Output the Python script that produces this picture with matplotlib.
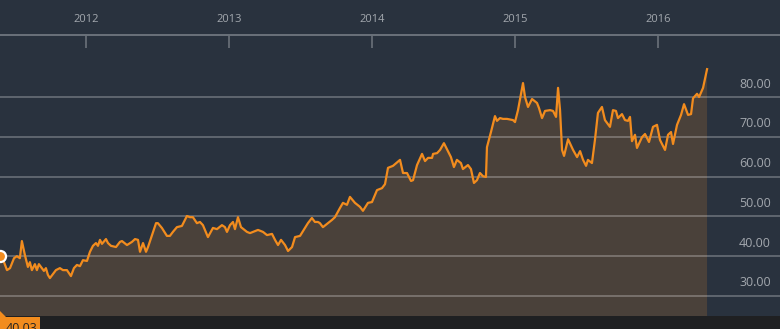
import matplotlib
matplotlib.use("Agg")
import matplotlib.pyplot as plt
from matplotlib.patches import Rectangle, Polygon
from matplotlib.transforms import offset_copy, blended_transform_factory

# ---- data (decimal years, price) ----
years = [
    2011.399, 2011.427, 2011.448, 2011.469, 2011.497, 2011.517, 2011.538, 2011.552, 2011.573, 2011.594,
    2011.608, 2011.622, 2011.643, 2011.657, 2011.671, 2011.692, 2011.706, 2011.720, 2011.734, 2011.748,
    2011.769, 2011.790, 2011.818, 2011.839, 2011.867, 2011.895, 2011.916, 2011.937, 2011.958, 2011.979,
    2012.007, 2012.028, 2012.049, 2012.070, 2012.084, 2012.098, 2012.112, 2012.140, 2012.154, 2012.175,
    2012.210, 2012.238, 2012.252, 2012.287, 2012.322, 2012.343, 2012.364, 2012.378, 2012.399, 2012.420,
    2012.434, 2012.469, 2012.490, 2012.503, 2012.531, 2012.566, 2012.587, 2012.608, 2012.636, 2012.671,
    2012.706, 2012.727, 2012.748, 2012.776, 2012.797, 2012.818, 2012.853, 2012.888, 2012.916, 2012.951,
    2012.972, 2012.986, 2013.007, 2013.028, 2013.042, 2013.063, 2013.084, 2013.126, 2013.147, 2013.168,
    2013.203, 2013.238, 2013.266, 2013.301, 2013.322, 2013.343, 2013.364, 2013.392, 2013.413, 2013.441,
    2013.462, 2013.497, 2013.531, 2013.552, 2013.580, 2013.601, 2013.622, 2013.636, 2013.657, 2013.692,
    2013.720, 2013.741, 2013.776, 2013.797, 2013.825, 2013.846, 2013.881, 2013.916, 2013.937, 2013.972,
    2014.000, 2014.035, 2014.070, 2014.091, 2014.112, 2014.147, 2014.196, 2014.217, 2014.245, 2014.273,
    2014.287, 2014.315, 2014.350, 2014.371, 2014.392, 2014.420, 2014.427, 2014.455, 2014.476, 2014.503,
    2014.524, 2014.552, 2014.573, 2014.594, 2014.622, 2014.636, 2014.671, 2014.692, 2014.713, 2014.734,
    2014.755, 2014.776, 2014.797, 2014.804, 2014.832, 2014.860, 2014.874, 2014.895, 2014.916, 2014.944,
    2014.986, 2015.000, 2015.021, 2015.056, 2015.070, 2015.091, 2015.119, 2015.154, 2015.168, 2015.189,
    2015.210, 2015.245, 2015.266, 2015.287, 2015.301, 2015.315, 2015.329, 2015.343, 2015.371, 2015.406,
    2015.434, 2015.455, 2015.476, 2015.497, 2015.510, 2015.538, 2015.559, 2015.580, 2015.608, 2015.629,
    2015.664, 2015.685, 2015.706, 2015.720, 2015.748, 2015.769, 2015.790, 2015.804, 2015.818, 2015.839,
    2015.853, 2015.888, 2015.909, 2015.937, 2015.965, 2015.993, 2016.014, 2016.049, 2016.070, 2016.091,
    2016.105, 2016.133, 2016.161, 2016.182, 2016.210, 2016.231, 2016.245, 2016.273, 2016.287, 2016.315,
    2016.343,
]
prices = [
    40.03, 38.5, 36.5, 37.0, 39.5, 40.0, 39.5, 43.8, 40.3, 37.3,
    38.5, 36.5, 38.0, 36.5, 38.0, 37.0, 36.3, 37.0, 35.3, 34.5,
    35.5, 36.5, 37.0, 36.5, 36.5, 35.0, 37.0, 37.8, 37.5, 39.0,
    38.8, 41.1, 42.6, 43.3, 42.6, 44.1, 43.1, 44.3, 43.3, 42.6,
    42.3, 43.6, 43.8, 42.8, 43.6, 44.3, 44.1, 41.1, 43.3, 41.1,
    42.3, 46.1, 48.3, 48.3, 47.1, 45.1, 45.1, 46.1, 47.3, 47.6,
    50.1, 49.8, 49.8, 48.3, 48.6, 47.8, 44.8, 47.1, 46.8, 47.8,
    47.3, 46.1, 47.8, 48.6, 46.8, 49.8, 47.3, 46.1, 45.8, 46.1,
    46.6, 46.1, 45.3, 45.6, 44.1, 42.8, 44.1, 42.8, 41.3, 42.3,
    44.8, 45.1, 47.1, 48.3, 49.6, 48.6, 48.6, 48.3, 47.3, 48.3,
    49.1, 49.8, 52.1, 53.4, 52.9, 54.9, 53.4, 52.4, 51.4, 53.4,
    53.6, 56.6, 57.1, 58.1, 62.2, 62.7, 64.2, 60.9, 60.9, 58.9,
    59.1, 62.9, 65.7, 63.9, 64.7, 64.7, 65.7, 65.9, 66.7, 68.4,
    66.9, 64.9, 62.4, 64.2, 63.4, 61.9, 62.9, 61.9, 58.4, 59.1,
    60.9, 60.1, 59.9, 67.4, 71.2, 75.2, 74.0, 74.7, 74.5, 74.5,
    74.2, 73.7, 76.7, 83.5, 80.0, 77.5, 79.5, 78.5, 77.2, 74.7,
    76.5, 76.7, 76.5, 75.0, 82.3, 76.7, 66.7, 65.2, 69.4, 66.7,
    64.9, 66.4, 64.2, 62.7, 64.2, 63.4, 69.2, 76.0, 77.5, 74.2,
    72.5, 76.7, 76.5, 74.7, 75.7, 74.2, 74.0, 75.0, 68.9, 70.5,
    67.2, 69.9, 70.7, 68.7, 72.5, 73.0, 69.2, 66.7, 70.5, 71.2,
    68.2, 73.0, 75.5, 78.2, 75.5, 75.7, 79.7, 80.8, 80.0, 82.3,
    87.0,
]
year_ticks = [2012, 2013, 2014, 2015, 2016]
year_labels = ["2012", "2013", "2014", "2015", "2016"]
price_ticks = [30, 40, 50, 60, 70, 80]
first_label = "40.03"

# ---- style ----
BG = "#29323e"
FILL = "#4a413a"
LINE = "#f28c1e"
AXIS = "#6a717a"
TXT = "#a3a8ae"
STRIP = "#1f2022"
FONT = "Open Sans"

W, H = 780, 329
fig = plt.figure(figsize=(W / 100, H / 100), dpi=100, facecolor=BG)

# axes spans from pixel y=35 (top axis line) down to y=316 (start of bottom strip)
ax = fig.add_axes([0, 13 / H, 1, (316 - 35) / H])
ax.set_facecolor(BG)
ax.set_xlim(2011.399, 2016.853)
ax.set_ylim(24.97, 95.58)

ax.fill_between(years, prices, 0, color=FILL, lw=0, zorder=1)
ax.plot(years, prices, color=LINE, lw=1.6, zorder=3, solid_joinstyle="round")
ax.plot(years[:1], prices[:1], marker="o", ms=8, mfc=LINE, mec="white", mew=1.6,
        color=LINE, zorder=4, clip_on=False)

# grid
ax.set_yticks(price_ticks)
ax.grid(axis="y", color="white", alpha=0.27, lw=1.3, zorder=2)
ax.set_axisbelow(False)
ax.tick_params(axis="y", left=False, right=False, labelleft=False, labelright=False)

# price labels above gridlines on the right
trans = offset_copy(blended_transform_factory(ax.transAxes, ax.transData), fig=fig, y=13, units="dots")
for p in price_ticks:
    ax.text(771 / W, p, f"{p:.2f}", transform=trans, ha="right", va="center",
            fontsize=9, color=TXT, family=FONT)

# top time axis
for s in ("left", "right", "bottom"):
    ax.spines[s].set_visible(False)
ax.spines["top"].set_color(AXIS)
ax.spines["top"].set_linewidth(1.4)
ax.xaxis.tick_top()
ax.set_xticks(year_ticks)
ax.set_xticklabels(year_labels, family=FONT)
ax.tick_params(axis="x", direction="in", length=9.5, width=1.2, color=AXIS,
               labelsize=8, labelcolor=TXT, pad=7)

# bottom strip and first-value label
fig.patches.append(Rectangle((0, 0), 1, 13 / H, transform=fig.transFigure,
                             facecolor=STRIP, lw=0, zorder=0))
fig.patches.append(Rectangle((0, 0), 40 / W, 12 / H, transform=fig.transFigure,
                             facecolor=LINE, lw=0, zorder=5))
fig.patches.append(Polygon([(0, 12 / H), (0, 18 / H), (6 / W, 12 / H)], closed=True,
                           transform=fig.transFigure, facecolor=LINE, lw=0, zorder=5))
fig.text(6 / W, 6.5 / H, first_label, ha="left", va="top", fontsize=9,
         color="#222222", family=FONT, zorder=6)

fig.savefig("out.png", dpi=100, facecolor=BG)
